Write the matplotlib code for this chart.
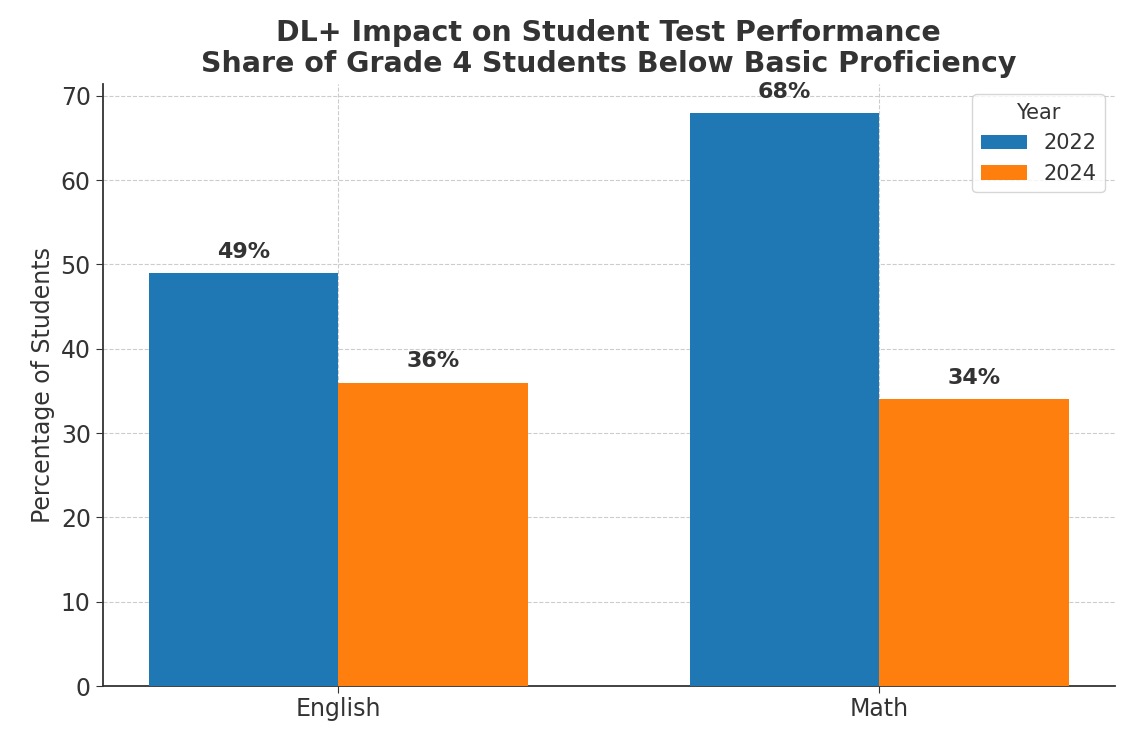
import numpy as np
import matplotlib
matplotlib.use("Agg")
from matplotlib import pyplot as plt

subjects = ["English", "Math"]
years = ["2022", "2024"]
vals_2022 = [49, 68]
vals_2024 = [36, 34]

plt.rcParams['font.family'] = ['DejaVu Sans']
plt.rcParams['text.color'] = '#333333'
plt.rcParams['axes.labelcolor'] = '#333333'
plt.rcParams['xtick.color'] = '#333333'
plt.rcParams['ytick.color'] = '#333333'

fig, ax = plt.subplots(figsize=(11.4, 7.37), dpi=100)
x = np.arange(len(subjects))
w = 0.35

b1 = ax.bar(x - w/2, vals_2022, w, color='#1f77b4', label=years[0], zorder=3)
b2 = ax.bar(x + w/2, vals_2024, w, color='#ff7f0e', label=years[1], zorder=3)

for bars in (b1, b2):
    for r in bars:
        ax.annotate(f"{r.get_height():.0f}%", (r.get_x() + r.get_width()/2, r.get_height()),
                    xytext=(0, 8), textcoords='offset points', ha='center', va='bottom',
                    fontsize=16, fontweight='bold')

ax.set_xticks(x)
ax.set_xticklabels(subjects, fontsize=17)
ax.tick_params(axis='y', labelsize=17)
ax.tick_params(length=5)
ax.tick_params(axis='x', pad=2.5)
ax.set_ylabel("Percentage of Students", fontsize=17)
ax.set_title("DL+ Impact on Student Test Performance\nShare of Grade 4 Students Below Basic Proficiency",
             fontsize=20.5, fontweight='bold', pad=9, linespacing=1.12)
ax.grid(True, linestyle='--', color='#cccccc', linewidth=0.8, zorder=0)
ax.spines['top'].set_visible(False)
ax.spines['right'].set_visible(False)
ax.spines['left'].set_color('#333333')
ax.spines['bottom'].set_color('#333333')
ax.spines['left'].set_linewidth(1.3)
ax.spines['bottom'].set_linewidth(1.3)
leg = ax.legend(title="Year", fontsize=15, title_fontsize=15, loc='upper right', handlelength=2.2)

fig.subplots_adjust(left=0.09, right=0.978, top=0.886, bottom=0.069)
fig.savefig("out.png")
